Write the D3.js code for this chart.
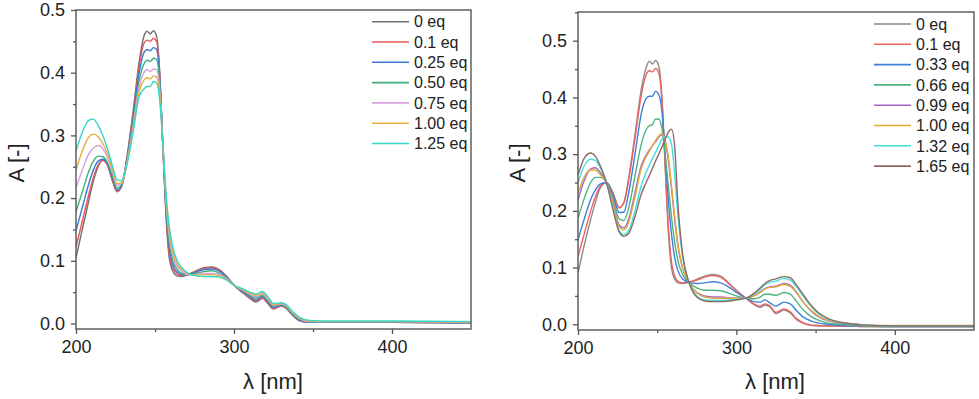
<!DOCTYPE html>
<html>
<head>
<meta charset="utf-8">
<script src="https://cdn.jsdelivr.net/npm/d3@7"></script>
<style>
  html, body { margin: 0; padding: 0; background: #fff; }
  svg { display: block; font-family: "Liberation Sans", Arial, sans-serif; }
</style>
</head>
<body>
<svg id="chart" width="979" height="399"></svg>
<script>
// ---------- Left panel data ----------
const leftWavelengths = [200,204,208,211,214,217,220,223,226,229,232,236,240,243,245,247,249,251,253,255,257,259,261,264,267,271,276,281,286,291,296,300,305,310,314,318,321,325,330,333,337,342,348,360,400,450];
const leftLabels = ["0 eq","0.1 eq","0.25 eq","0.50 eq","0.75 eq","1.00 eq","1.25 eq"];
const leftColors = ["#6f6f6f","#e8575a","#3a78d8","#3fae78","#d7a0de","#e8b040","#33d6c9"];
const left0 = [.105,.150,.195,.227,.250,.261,.252,.228,.210,.220,.262,.335,.418,.458,.466,.462,.467,.458,.400,.280,.170,.105,.085,.076,.075,.078,.084,.089,.090,.085,.073,.061,.050,.040,.034,.040,.033,.023,.028,.024,.013,.004,.002,.002,.002,.001];
const left01 = [.122,.163,.205,.233,.253,.260,.252,.229,.211,.220,.260,.330,.410,.447,.452,.450,.455,.450,.398,.282,.175,.112,.090,.079,.076,.078,.083,.088,.089,.085,.073,.061,.051,.041,.036,.041,.034,.024,.028,.025,.014,.004,.002,.002,.002,.001];
const left025 = [.148,.185,.222,.245,.259,.262,.254,.233,.213,.220,.257,.325,.400,.432,.437,.435,.440,.437,.392,.283,.182,.122,.096,.082,.078,.078,.082,.086,.087,.083,.072,.061,.052,.043,.038,.043,.036,.026,.029,.026,.015,.005,.002,.002,.002,.001];
const left050 = [.178,.210,.242,.259,.267,.266,.256,.236,.216,.222,.255,.318,.388,.414,.420,.418,.423,.421,.383,.284,.188,.130,.103,.086,.080,.078,.080,.083,.084,.080,.071,.061,.053,.045,.041,.045,.038,.028,.030,.027,.016,.006,.003,.003,.003,.002];
const left075 = [.216,.245,.270,.280,.284,.279,.264,.242,.220,.224,.254,.312,.378,.400,.405,.402,.406,.405,.372,.285,.195,.140,.110,.091,.083,.078,.078,.080,.080,.078,.070,.061,.054,.047,.043,.047,.040,.029,.031,.028,.017,.007,.003,.003,.003,.002];
const left100 = [.245,.275,.297,.302,.298,.287,.270,.246,.223,.225,.252,.308,.370,.388,.392,.390,.395,.393,.365,.285,.200,.147,.117,.095,.086,.079,.077,.078,.078,.076,.069,.061,.055,.048,.045,.049,.042,.030,.032,.029,.018,.008,.004,.003,.003,.002];
const left125 = [.275,.305,.324,.326,.316,.300,.278,.252,.229,.228,.251,.303,.362,.374,.378,.378,.386,.384,.355,.285,.207,.155,.125,.100,.089,.080,.076,.075,.075,.074,.068,.061,.056,.050,.047,.051,.044,.032,.033,.030,.019,.009,.005,.004,.004,.003];
const leftSeries = [left0,left01,left025,left050,left075,left100,left125];

// ---------- Right panel data ----------
const rightWavelengths = [200,204,208,211,214,218,222,226,229,232,236,240,243,245,247,249,251,253,255,257,259,261,263,266,270,275,280,285,290,295,300,306,311,315,318,321,325,330,334,338,342,347,352,358,365,372,380,400,450];
const rightLabels = ["0 eq","0.1 eq","0.33 eq","0.66 eq","0.99 eq","1.00 eq","1.32 eq","1.65 eq"];
const rightColors = ["#8a8a8a","#f06262","#3d7fdc","#4fb37f","#a466c6","#e2a93a","#40dfe0","#8e6a62"];
const right0 = [.090,.140,.185,.215,.240,.250,.232,.205,.215,.258,.335,.415,.452,.464,.459,.465,.455,.400,.280,.165,.100,.080,.073,.072,.074,.079,.085,.088,.085,.073,.060,.046,.035,.030,.034,.031,.019,.025,.020,.008,.002,-.002,-.003,-.003,-.003,-.003,-.004,-.004,-.004];
const right01 = [.119,.160,.200,.225,.243,.250,.232,.206,.214,.254,.328,.405,.440,.447,.445,.451,.443,.395,.285,.175,.110,.085,.076,.073,.074,.078,.083,.086,.083,.072,.059,.046,.036,.032,.036,.033,.021,.027,.022,.010,.003,-.001,-.002,-.003,-.003,-.003,-.004,-.004,-.004];
const right033 = [.149,.186,.220,.237,.247,.250,.228,.197,.198,.232,.300,.372,.398,.402,.402,.411,.405,.375,.300,.220,.160,.118,.095,.080,.074,.072,.073,.075,.073,.066,.056,.046,.040,.039,.043,.038,.032,.039,.036,.024,.013,.006,.002,.000,-.002,-.003,-.003,-.004,-.004];
const right066 = [.187,.222,.250,.259,.259,.250,.222,.186,.183,.205,.262,.318,.343,.350,.352,.362,.362,.345,.300,.245,.190,.145,.113,.088,.074,.064,.060,.060,.059,.055,.050,.046,.045,.048,.053,.053,.051,.056,.053,.040,.026,.014,.007,.002,.000,-.002,-.003,-.004,-.004];
const right099 = [.219,.254,.274,.276,.268,.250,.216,.175,.170,.185,.232,.280,.298,.307,.315,.322,.330,.334,.322,.290,.240,.186,.140,.099,.074,.056,.050,.048,.048,.047,.046,.046,.050,.057,.063,.066,.067,.072,.069,.056,.040,.024,.013,.006,.002,.000,-.002,-.003,-.003];
const right100 = [.231,.260,.272,.272,.264,.250,.214,.172,.166,.180,.225,.275,.295,.305,.315,.324,.332,.336,.325,.295,.245,.190,.143,.100,.074,.055,.048,.046,.046,.046,.046,.046,.050,.056,.062,.065,.066,.070,.067,.055,.040,.025,.014,.007,.003,.001,-.001,-.002,-.002];
const right132 = [.249,.280,.291,.289,.276,.250,.206,.165,.158,.165,.200,.245,.268,.280,.292,.303,.315,.327,.331,.330,.318,.265,.195,.120,.074,.050,.043,.042,.042,.043,.044,.046,.053,.062,.070,.074,.076,.081,.078,.066,.050,.032,.018,.009,.003,.001,-.001,-.003,-.003];
const right165 = [.263,.293,.302,.296,.280,.250,.203,.163,.155,.160,.190,.230,.250,.262,.275,.288,.300,.313,.326,.339,.344,.315,.215,.125,.074,.048,.041,.040,.040,.041,.043,.046,.054,.064,.072,.077,.080,.084,.082,.069,.053,.034,.020,.010,.004,.001,-.001,-.003,-.003];
const rightSeries = [right0,right01,right033,right066,right099,right100,right132,right165];

// ---------- Axis ticks ----------
const xTickValues = [200,300,400];
const xMinorTicks = [250,350];
const yTickValues = [0,0.1,0.2,0.3,0.4,0.5];
const leftYMinor = [0.05,0.15,0.25,0.35,0.45];
const rightYMinor = [0.05,0.15,0.25,0.35,0.45,0.55];
const xTitle = "λ [nm]";
const yTitle = "A [-]";

const svg = d3.select("#chart");

function panel(cfg) {
  const x = d3.scaleLinear().domain([200,450]).range([cfg.x0, cfg.x1]);
  const y = d3.scaleLinear().domain(cfg.yDomain).range([cfg.y1, cfg.y0]);
  const g = svg.append("g");
  const clipId = "clip" + cfg.id;
  svg.append("clipPath").attr("id", clipId).append("rect")
    .attr("x", cfg.x0).attr("y", cfg.y0).attr("width", cfg.x1 - cfg.x0).attr("height", cfg.y1 - cfg.y0);

  // curves
  const line = d3.line().curve(d3.curveMonotoneX);
  const cg = g.append("g").attr("clip-path", `url(#${clipId})`);
  cfg.series.forEach((vals, i) => {
    const pts = cfg.wl.map((w, k) => [x(w), y(vals[k])]);
    cg.append("path").attr("d", line(pts)).attr("fill", "none")
      .attr("stroke", cfg.colors[i]).attr("stroke-width", 1.4).attr("stroke-linejoin", "round");
  });

  // frame
  g.append("rect").attr("x", cfg.x0).attr("y", cfg.y0)
    .attr("width", cfg.x1 - cfg.x0).attr("height", cfg.y1 - cfg.y0)
    .attr("fill", "none").attr("stroke", "#555").attr("stroke-width", 1.4);

  // axes
  const xAxis = d3.axisBottom(x).tickValues(xTickValues).tickSize(5).tickPadding(6).tickFormat(d3.format("d"));
  const xa = g.append("g").attr("transform", `translate(0,${cfg.y1})`).call(xAxis);
  const xm = g.append("g").attr("transform", `translate(0,${cfg.y1})`)
    .call(d3.axisBottom(x).tickValues(xMinorTicks).tickSize(3).tickFormat(""));
  const yAxis = d3.axisLeft(y).tickValues(yTickValues).tickSize(5).tickPadding(6).tickFormat(d3.format(".1f"));
  const ya = g.append("g").attr("transform", `translate(${cfg.x0},0)`).call(yAxis);
  const ym = g.append("g").attr("transform", `translate(${cfg.x0},0)`)
    .call(d3.axisLeft(y).tickValues(cfg.yMinor).tickSize(3).tickFormat(""));
  [xa, xm, ya, ym].forEach(a => {
    a.select(".domain").remove();
    a.selectAll("line").attr("stroke", "#555").attr("stroke-width", 1.3);
    a.selectAll("text").attr("font-size", 18).attr("fill", "#222")
      .attr("font-family", "'Liberation Sans', Arial, sans-serif");
  });

  // titles
  g.append("text").attr("x", cfg.xTitleX).attr("y", 389)
    .attr("text-anchor", "middle").attr("font-size", 22).attr("fill", "#222").text(xTitle);
  g.append("text").attr("transform", `translate(${cfg.yTitleX},${cfg.yTitleY}) rotate(-90)`)
    .attr("text-anchor", "middle").attr("dy", "0.36em").attr("font-size", 22).attr("fill", "#222").text(yTitle);

  // legend
  const lg = g.append("g");
  cfg.labels.forEach((lab, i) => {
    const yy = cfg.legY + i * cfg.legStep;
    lg.append("line").attr("x1", cfg.legX).attr("x2", cfg.legX + 37).attr("y1", yy).attr("y2", yy)
      .attr("stroke", cfg.colors[i]).attr("stroke-width", 1.6);
    lg.append("text").attr("x", cfg.legX + 42).attr("y", yy).attr("dy", "0.36em")
      .attr("font-size", 16).attr("fill", "#222").text(lab);
  });
}

panel({
  id: "L", x0: 76, x1: 471, y0: 10, y1: 329, yDomain: [-0.0088, 0.5],
  wl: leftWavelengths, series: leftSeries, colors: leftColors, labels: leftLabels,
  yMinor: leftYMinor, xTitleX: 273, yTitleX: 16, yTitleY: 163,
  legX: 372, legY: 21.7, legStep: 20.3
});
panel({
  id: "R", x0: 578, x1: 974, y0: 12, y1: 330, yDomain: [-0.0101, 0.5506],
  wl: rightWavelengths, series: rightSeries, colors: rightColors, labels: rightLabels,
  yMinor: rightYMinor, xTitleX: 775, yTitleX: 517, yTitleY: 163,
  legX: 874, legY: 24, legStep: 20.3
});
</script>
</body>
</html>
